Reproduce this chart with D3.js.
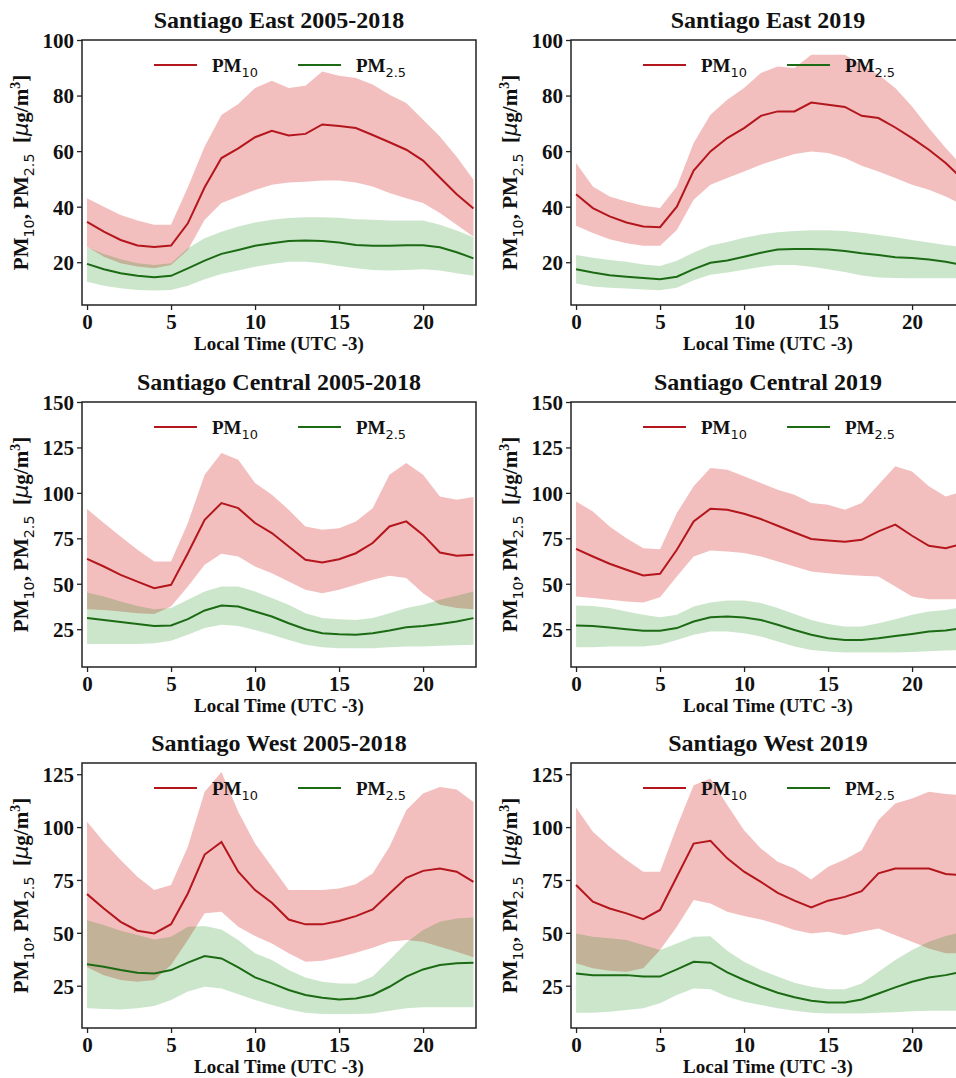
<!DOCTYPE html>
<html>
<head>
<meta charset="utf-8">
<script src="https://cdn.jsdelivr.net/npm/d3@7"></script>
<style>
  body { margin: 0; background: #fff; }
  svg { display: block; }
</style>
</head>
<body>
<script>
// hours of the day
let hours = d3.range(24);

// ---- Santiago East 2005-2018 ----
let eastHist_pm10 = [34.5, 31, 28, 26, 25.5, 26, 34, 47, 57.5, 61, 65, 67.3, 65.6, 66.2, 69.6, 69, 68.3, 65.8, 63.2, 60.5, 56.6, 50.5, 44.5, 39.3];
let eastHist_pm10Hi = [43, 40, 37, 35, 33.5, 33.5, 47, 61.7, 73, 77, 82.7, 85.3, 82.7, 83.5, 88.7, 87.1, 86.3, 84, 80.3, 77.3, 71.3, 65.3, 58, 49.7];
let eastHist_pm10Lo = [25.6, 22, 19.6, 18.5, 17.8, 19, 24.4, 35.3, 41.3, 43.7, 46, 47.9, 48.7, 49, 49.4, 49.4, 48.7, 47.3, 44.9, 43, 41.3, 37.7, 33.5, 29.2];
let eastHist_pm25 = [19.4, 17.5, 16, 15.1, 14.6, 15.1, 17.8, 20.6, 23, 24.4, 25.9, 26.8, 27.6, 27.8, 27.6, 27.1, 26.2, 25.9, 25.9, 26.1, 26.1, 25.4, 23.6, 21.4];
let eastHist_pm25Hi = [25.4, 23, 21.1, 19.6, 19, 19.6, 25, 28.6, 31, 32.9, 34.3, 35.3, 35.9, 36.2, 36.2, 36, 35.5, 35.3, 35, 35, 35, 33.5, 31.4, 29];
let eastHist_pm25Lo = [13, 11.5, 10.6, 10, 9.8, 10, 11.5, 13.9, 15.8, 17, 18.4, 19.4, 20.2, 20.2, 19.6, 18.6, 17.8, 17.2, 17, 17.2, 17.5, 17, 16, 15.1];

// ---- Santiago East 2019 ----
let east2019_pm10 = [44.5, 39.5, 36.5, 34.3, 32.9, 32.6, 40, 53, 59.9, 64.7, 68.3, 72.7, 74.3, 74.3, 77.5, 76.7, 75.9, 72.7, 71.9, 68.5, 64.7, 60.5, 55.7, 50];
let east2019_pm10Hi = [55.7, 47.3, 43.7, 41.9, 40.3, 39.5, 47.3, 62.9, 73.1, 78.5, 82.7, 88.1, 90.5, 89.9, 94.7, 94.7, 94.7, 91.1, 87.5, 82.7, 76.1, 68.3, 61.1, 54.5];
let east2019_pm10Lo = [33.1, 30.5, 28.3, 26.8, 25.9, 25.9, 31.6, 42.5, 47.9, 50.3, 52.7, 55.1, 57.1, 59, 59.9, 59.3, 57.5, 54.7, 52.7, 50.3, 47.9, 46.1, 43.7, 40.7];
let east2019_pm25 = [17.5, 16.3, 15.3, 14.8, 14.3, 13.9, 14.8, 17.5, 19.8, 20.6, 22, 23.4, 24.6, 24.8, 24.8, 24.6, 24, 23.2, 22.6, 21.8, 21.5, 21, 20.2, 19];
let east2019_pm25Hi = [22.6, 21.6, 20.8, 20.2, 19.2, 18.6, 20.5, 23.5, 26, 27.3, 28.8, 30, 30.8, 31.2, 31.5, 31.5, 31.2, 30.6, 29.8, 29, 28, 27.1, 26.2, 25.4];
let east2019_pm25Lo = [12.3, 11.3, 10.8, 10.5, 10.2, 9.9, 10.8, 13.5, 15.5, 16.3, 17.3, 18.3, 19, 19, 18.4, 17.5, 16.5, 15.2, 14.5, 14.3, 14.2, 14.2, 14.2, 14.2];

// ---- Santiago Central 2005-2018 ----
let centralHist_pm10 = [63.7, 59.5, 54.9, 51.2, 47.6, 49.4, 66.8, 85.2, 94.4, 91.6, 83.4, 77.9, 70.5, 63.2, 61.7, 63.5, 66.8, 72.4, 81.5, 84.3, 76.9, 67.2, 65.4, 65.9];
let centralHist_pm10Hi = [91.1, 83.4, 76, 68.7, 62.3, 62.3, 83.4, 110, 121.9, 118.2, 105.4, 99, 90.7, 81.5, 79.7, 80.6, 84.3, 91.6, 110, 116.4, 110, 98, 96.2, 97.7];
let centralHist_pm10Lo = [36, 35.6, 34.7, 33.8, 33.4, 37.5, 48.5, 60.4, 66.5, 65, 59.5, 55.8, 51.2, 46.7, 44.8, 46.7, 49.4, 52.2, 54.4, 53.1, 44.8, 38.4, 36.6, 36];
let centralHist_pm25 = [31.1, 30.1, 28.9, 27.8, 26.8, 27, 30.5, 35.3, 38, 37.5, 34.7, 32, 28.3, 25, 22.8, 22.2, 21.9, 22.8, 24.3, 26.1, 26.8, 27.9, 29.2, 31.1];
let centralHist_pm25Hi = [45.2, 43, 40.2, 37.8, 36, 36.6, 41.2, 45.7, 48.5, 48.5, 45.7, 42.1, 38.4, 33.8, 31.1, 30.5, 30.1, 31.1, 33.8, 36.6, 38.4, 41.2, 43.4, 45.7];
let centralHist_pm25Lo = [16.9, 16.9, 16.9, 16.9, 17.3, 18.6, 21.9, 25.6, 27.4, 26.8, 24.6, 21.9, 19.1, 16.4, 15.1, 14.5, 14.5, 14.5, 15.1, 15.5, 15.5, 15.9, 16.2, 16.4];

// ---- Santiago Central 2019 ----
let central2019_pm10 = [69.2, 65, 61, 57.7, 54.6, 55.5, 68.7, 84.3, 91.3, 90.7, 88.5, 85.6, 81.9, 78.2, 74.6, 73.8, 73.1, 74.2, 78.8, 82.5, 76.4, 70.9, 69.6, 72];
let central2019_pm10Hi = [95.3, 89.8, 81.5, 75.1, 69.6, 69, 88.9, 103.6, 113.7, 112.7, 109.1, 105.4, 101.7, 99, 94.4, 93.5, 90.7, 94.4, 104.5, 114.6, 111.8, 103.6, 98, 100.8];
let central2019_pm10Lo = [43, 42.1, 41.2, 40.2, 39.7, 42.6, 54, 65, 68.3, 67.8, 66.9, 65, 62.3, 59.5, 56.8, 55.8, 54.9, 54.4, 54, 48.5, 43, 41.5, 41.5, 41.5];
let central2019_pm25 = [27, 26.8, 25.9, 25, 24.1, 24.1, 25.6, 29.2, 31.6, 32, 31.4, 30.1, 27.4, 24.6, 21.9, 20, 19.1, 19.1, 20, 21.3, 22.4, 23.7, 24.3, 25.6];
let central2019_pm25Hi = [38, 37.8, 36.6, 34.7, 32.9, 31.6, 32.9, 37.5, 39.7, 40.8, 40.8, 39.4, 36.6, 33.4, 30.1, 27.9, 26.5, 26.5, 28.3, 30.5, 32.9, 34.7, 35.6, 37.1];
let central2019_pm25Lo = [15.1, 15.1, 15.5, 15.5, 15.5, 16.4, 19.1, 21.9, 23.7, 23.7, 22.8, 21, 18.2, 15.5, 13.6, 12.7, 12.2, 12.2, 12.2, 12.2, 12.5, 12.9, 13.3, 13.6];

// ---- Santiago West 2005-2018 ----
let westHist_pm10 = [68.3, 61.5, 55.2, 51, 49.7, 54.1, 68.6, 87, 93, 78.9, 70.2, 64.2, 56.3, 54, 54, 55.6, 57.9, 61.1, 68.6, 76, 79.3, 80.4, 78.9, 74.1];
let westHist_pm10Hi = [102.5, 93, 84.4, 76.5, 70.2, 72.6, 90.7, 116.7, 126.1, 107.2, 92.2, 81.2, 70.2, 70.2, 70.2, 71, 73, 78.1, 90.7, 108, 115.9, 119, 117.8, 111.9];
let westHist_pm10Lo = [33.7, 30, 27.7, 26.9, 27.7, 34.8, 46.6, 59.2, 60, 52.9, 48.5, 45, 40.3, 36.3, 36.8, 38.4, 40.6, 43, 45.8, 46.6, 45.8, 43.4, 41.1, 38.4];
let westHist_pm25 = [35.1, 34, 32.4, 31.1, 30.8, 32.4, 35.9, 39, 37.9, 33.7, 28.9, 26.1, 23, 20.6, 19.3, 18.5, 19, 20.6, 24.5, 29.3, 32.7, 34.8, 35.6, 35.9];
let westHist_pm25Hi = [56, 53.7, 51, 49, 46.9, 48.1, 52.9, 53.2, 51.6, 46.6, 40.3, 37.1, 32.4, 28.9, 26.9, 26.1, 26.1, 29.3, 37.1, 45.3, 51.3, 55.2, 56.8, 57.3];
let westHist_pm25Lo = [14.3, 14, 13.8, 14.3, 15.4, 18.2, 22.2, 24.5, 23.7, 21, 18.2, 15.9, 13.8, 12.2, 11.6, 11.6, 11.6, 11.9, 13.2, 14.3, 14.8, 14.8, 14.8, 14.8];

// ---- Santiago West 2019 ----
let west2019_pm10 = [72.6, 64.7, 61.5, 59.2, 56.5, 60.8, 76.5, 92.2, 93.5, 85.2, 78.9, 74.1, 68.9, 65.2, 62, 65.2, 67, 69.7, 78.1, 80.4, 80.4, 80.4, 77.8, 77.3];
let west2019_pm10Hi = [109.3, 97.8, 90.7, 84.4, 78.9, 78.9, 100.1, 119.8, 123, 110.4, 98.5, 89.9, 83.6, 80.4, 75.2, 81.2, 84.7, 89.1, 103.3, 111.1, 113.5, 116.7, 115.6, 115.1];
let west2019_pm10Lo = [35.6, 33.2, 32.1, 31.6, 33.2, 41.9, 52.9, 65.5, 63.9, 60, 57.9, 56.3, 54.1, 51.3, 49.7, 50.5, 48.9, 50.5, 52.1, 48.9, 45.8, 42.6, 40.3, 40.3];
let west2019_pm25 = [30.8, 30, 30, 30, 29.3, 29.3, 32.7, 36.3, 35.9, 31.3, 27.7, 24.5, 21.7, 19.5, 17.9, 17.1, 17.1, 18.5, 21.3, 24.2, 26.9, 28.9, 30, 31.6];
let west2019_pm25Hi = [49.7, 48.1, 47.4, 46.6, 44.2, 41.9, 45, 48.1, 48.4, 41.5, 36.3, 32.4, 29.3, 26.4, 24.5, 23.3, 23.3, 26.1, 31.6, 37.1, 41.9, 45.8, 48.5, 50.5];
let west2019_pm25Lo = [12.2, 12.2, 12.7, 13.5, 14.3, 16.7, 20.6, 23.7, 23.3, 19.8, 17.4, 15.9, 14.3, 13.2, 12.2, 11.9, 11.9, 11.9, 12.2, 12.5, 12.9, 13.2, 13.2, 13.2];

// axis settings per row
let rowDomains = [[4.6, 100], [4.2, 150], [5, 130.3]];
let rowTicks = [[20, 40, 60, 80, 100], [25, 50, 75, 100, 125, 150], [25, 50, 75, 100, 125]];
let xTicks = [0, 5, 10, 15, 20];

let panels = [
  { title: "Santiago East 2005-2018", row: 0, col: 0, pm10: eastHist_pm10, pm10Hi: eastHist_pm10Hi, pm10Lo: eastHist_pm10Lo, pm25: eastHist_pm25, pm25Hi: eastHist_pm25Hi, pm25Lo: eastHist_pm25Lo },
  { title: "Santiago East 2019", row: 0, col: 1, pm10: east2019_pm10, pm10Hi: east2019_pm10Hi, pm10Lo: east2019_pm10Lo, pm25: east2019_pm25, pm25Hi: east2019_pm25Hi, pm25Lo: east2019_pm25Lo },
  { title: "Santiago Central 2005-2018", row: 1, col: 0, pm10: centralHist_pm10, pm10Hi: centralHist_pm10Hi, pm10Lo: centralHist_pm10Lo, pm25: centralHist_pm25, pm25Hi: centralHist_pm25Hi, pm25Lo: centralHist_pm25Lo },
  { title: "Santiago Central 2019", row: 1, col: 1, pm10: central2019_pm10, pm10Hi: central2019_pm10Hi, pm10Lo: central2019_pm10Lo, pm25: central2019_pm25, pm25Hi: central2019_pm25Hi, pm25Lo: central2019_pm25Lo },
  { title: "Santiago West 2005-2018", row: 2, col: 0, pm10: westHist_pm10, pm10Hi: westHist_pm10Hi, pm10Lo: westHist_pm10Lo, pm25: westHist_pm25, pm25Hi: westHist_pm25Hi, pm25Lo: westHist_pm25Lo },
  { title: "Santiago West 2019", row: 2, col: 1, pm10: west2019_pm10, pm10Hi: west2019_pm10Hi, pm10Lo: west2019_pm10Lo, pm25: west2019_pm25, pm25Hi: west2019_pm25Hi, pm25Lo: west2019_pm25Lo }
];

// layout
let W = 956, H = 1078;
let colLeft = [82, 571];
let rowTop = [40, 402, 763];
let pw = 394, ph = 265;

let serif = "'Liberation Serif', 'Times New Roman', serif";
let mathFont = "'DejaVu Sans', sans-serif";
let redLine = "#b3161c", redBand = "#d62728";
let greenLine = "#1c6b14", greenBand = "#008000";

let svg = d3.select("body").append("svg")
  .attr("width", W)
  .attr("height", H);

// "PM" with a mathtext-like subscript
function pmText(t, sub, size) {
  t.append("tspan").text("PM");
  t.append("tspan")
    .attr("font-family", mathFont)
    .attr("font-weight", "normal")
    .attr("font-size", size * 0.68)
    .attr("dy", size * 0.28)
    .text(sub);
}

panels.forEach(function(p) {
  let x0 = colLeft[p.col], y0 = rowTop[p.row];
  let g = svg.append("g").attr("transform", "translate(" + x0 + "," + y0 + ")");

  let x = d3.scaleLinear().domain([-0.3, 23.15]).range([0, pw]);
  let y = d3.scaleLinear().domain(rowDomains[p.row]).range([ph, 0]);

  let band = function(lo, hi) {
    return d3.area()
      .x(function(d, i) { return x(hours[i]); })
      .y0(function(d, i) { return y(lo[i]); })
      .y1(function(d, i) { return y(hi[i]); });
  };
  let line = d3.line()
    .x(function(d, i) { return x(hours[i]); })
    .y(function(d) { return y(d); });

  // bands
  g.append("path").datum(p.pm10).attr("d", band(p.pm10Lo, p.pm10Hi))
    .attr("fill", redBand).attr("fill-opacity", 0.3);
  g.append("path").datum(p.pm25).attr("d", band(p.pm25Lo, p.pm25Hi))
    .attr("fill", greenBand).attr("fill-opacity", 0.2);

  // mean lines
  g.append("path").datum(p.pm10).attr("d", line)
    .attr("fill", "none").attr("stroke", redLine).attr("stroke-width", 2);
  g.append("path").datum(p.pm25).attr("d", line)
    .attr("fill", "none").attr("stroke", greenLine).attr("stroke-width", 2);

  // frame
  g.append("rect").attr("width", pw).attr("height", ph)
    .attr("fill", "none").attr("stroke", "#222").attr("stroke-width", 1.5);

  // axes
  let yAxis = g.append("g").call(d3.axisLeft(y).tickValues(rowTicks[p.row]).tickSize(5).tickPadding(3));
  let xAxis = g.append("g").attr("transform", "translate(0," + ph + ")")
    .call(d3.axisBottom(x).tickValues(xTicks).tickSize(5).tickPadding(4));
  [yAxis, xAxis].forEach(function(a) {
    a.select(".domain").remove();
    a.selectAll("line").attr("stroke", "#222").attr("stroke-width", 1.3);
    a.selectAll("text")
      .attr("font-family", serif)
      .attr("font-weight", "bold")
      .attr("font-size", 21)
      .attr("fill", "#111");
  });
  yAxis.selectAll("text").attr("dy", "0.35em");

  // title
  g.append("text")
    .attr("x", pw / 2).attr("y", -12)
    .attr("text-anchor", "middle")
    .attr("font-family", serif).attr("font-weight", "bold").attr("font-size", 24)
    .attr("fill", "#111")
    .text(p.title);

  // x label
  g.append("text")
    .attr("x", pw / 2).attr("y", ph + 45)
    .attr("text-anchor", "middle")
    .attr("font-family", serif).attr("font-weight", "bold").attr("font-size", 19)
    .attr("fill", "#111")
    .text("Local Time (UTC -3)");

  // y label
  let fs = 21;
  let yl = g.append("text")
    .attr("transform", "translate(" + (-54) + "," + (ph / 2) + ") rotate(-90)")
    .attr("text-anchor", "middle")
    .attr("font-family", serif).attr("font-weight", "bold").attr("font-size", fs)
    .attr("fill", "#111");
  pmText(yl, "10", fs);
  yl.append("tspan").attr("dy", -fs * 0.28).text(", ");
  pmText(yl, "2.5", fs);
  yl.append("tspan").attr("dy", -fs * 0.28).text("\u00a0\u00a0[");
  yl.append("tspan").attr("font-family", mathFont).attr("font-style", "italic")
    .attr("font-weight", "normal").text("\u03bc");
  yl.append("tspan").text("g/m");
  yl.append("tspan").attr("font-size", 14).attr("dy", -8).text("3");
  yl.append("tspan").attr("dy", 8).text("]");

  // legend
  let lg = g.append("g").attr("transform", "translate(0,25)");
  let items = [
    { sub: "10", color: redLine, x: 72 },
    { sub: "2.5", color: greenLine, x: 216 }
  ];
  items.forEach(function(it) {
    lg.append("line")
      .attr("x1", it.x).attr("x2", it.x + 43)
      .attr("y1", 0).attr("y2", 0)
      .attr("stroke", it.color).attr("stroke-width", 2);
    let t = lg.append("text")
      .attr("x", it.x + 58).attr("y", 7)
      .attr("font-family", serif).attr("font-weight", "bold").attr("font-size", 19)
      .attr("fill", "#111");
    pmText(t, it.sub, 19);
  });
});
</script>
</body>
</html>
